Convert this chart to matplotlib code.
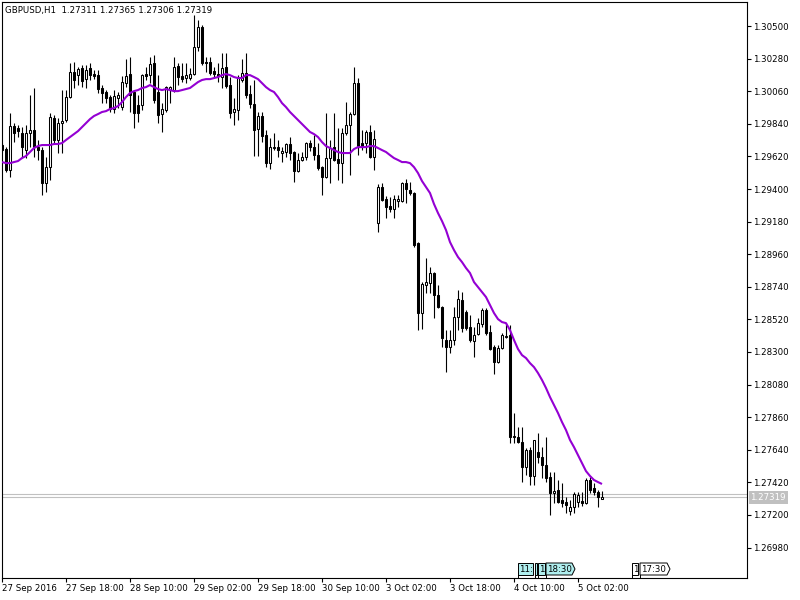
import numpy as np
import pandas as pd
import matplotlib
matplotlib.use('Agg')
import matplotlib.pyplot as plt
from matplotlib.patches import Polygon

# GBPUSD H1, 27 Sep 2016 02:00 .. 5 Oct 2016 08:00 (weekend gap)
symbol = 'GBPUSD,H1'
times = list(pd.date_range('2016-09-27 02:00', '2016-09-30 23:00', freq='h')) + \
        list(pd.date_range('2016-10-03 00:00', '2016-10-05 08:00', freq='h'))

opens = [1.29697, 1.29670, 1.29528, 1.29825, 1.29812, 1.29778, 1.29663, 1.29778, 1.29798, 1.29683,
         1.29663, 1.29440, 1.29548, 1.29879, 1.29731, 1.29845, 1.29866, 1.30021, 1.30190, 1.30169,
         1.30217, 1.30142, 1.30217, 1.30176, 1.30169, 1.30082, 1.30055, 1.30021, 1.29940, 1.30014,
         1.29953, 1.30115, 1.30176, 1.30055, 1.29967, 1.29967, 1.30176, 1.30169, 1.30250, 1.30055,
         1.29906, 1.29933, 1.30068, 1.30068, 1.30230, 1.30163, 1.30149, 1.30149, 1.30176, 1.30358,
         1.30493, 1.30257, 1.30257, 1.30196, 1.30176, 1.30156, 1.30223, 1.30102, 1.29920, 1.29933,
         1.30136, 1.30183, 1.30041, 1.29974, 1.29805, 1.29893, 1.29764, 1.29575, 1.29677, 1.29683,
         1.29643, 1.29650, 1.29704, 1.29650, 1.29521, 1.29596, 1.29616, 1.29710, 1.29683, 1.29629,
         1.29548, 1.29481, 1.29609, 1.29683, 1.29602, 1.29575, 1.29778, 1.29832, 1.29906, 1.30115,
         1.29710, 1.29710, 1.29785, 1.29616, 1.29170, 1.29413, 1.29332, 1.29285, 1.29265, 1.29319,
         1.29319, 1.29440, 1.29393, 1.29373, 1.29035, 1.28563, 1.28752, 1.28765, 1.28833, 1.28684,
         1.28603, 1.28381, 1.28333, 1.28381, 1.28536, 1.28651, 1.28570, 1.28468, 1.28374, 1.28421,
         1.28489, 1.28583, 1.28435, 1.28333, 1.28232, 1.28327, 1.28401, 1.28414, 1.27733, 1.27726,
         1.27692, 1.27523, 1.27638, 1.27463, 1.27625, 1.27591, 1.27537, 1.27456, 1.27348, 1.27368,
         1.27301, 1.27287, 1.27226, 1.27253, 1.27287, 1.27294, 1.27280, 1.27436, 1.27382, 1.27355,
         1.27311]
highs = [1.29710, 1.29683, 1.29913, 1.29845, 1.29832, 1.29818, 1.29832, 1.30034, 1.30082, 1.29731,
         1.29683, 1.29616, 1.29913, 1.29899, 1.29879, 1.30068, 1.30068, 1.30250, 1.30257, 1.30223,
         1.30237, 1.30237, 1.30250, 1.30203, 1.30203, 1.30102, 1.30068, 1.30034, 1.30068, 1.30055,
         1.30163, 1.30277, 1.30291, 1.30068, 1.30034, 1.30176, 1.30223, 1.30291, 1.30304, 1.30169,
         1.29980, 1.30095, 1.30095, 1.30291, 1.30250, 1.30250, 1.30250, 1.30217, 1.30574, 1.30541,
         1.30507, 1.30291, 1.30291, 1.30223, 1.30250, 1.30318, 1.30318, 1.30156, 1.30014, 1.30169,
         1.30277, 1.30318, 1.30102, 1.30136, 1.29920, 1.29920, 1.29798, 1.29744, 1.29778, 1.29731,
         1.29683, 1.29710, 1.29751, 1.29656, 1.29643, 1.29650, 1.29717, 1.29731, 1.29764, 1.29710,
         1.29555, 1.29913, 1.29731, 1.29913, 1.29812, 1.29812, 1.29987, 1.29920, 1.30223, 1.30149,
         1.29798, 1.29798, 1.29832, 1.29798, 1.29434, 1.29440, 1.29353, 1.29346, 1.29359, 1.29359,
         1.29447, 1.29467, 1.29447, 1.29380, 1.29042, 1.28772, 1.28934, 1.28873, 1.28840, 1.28752,
         1.28610, 1.28448, 1.28448, 1.28603, 1.28718, 1.28705, 1.28583, 1.28549, 1.28468, 1.28529,
         1.28597, 1.28597, 1.28482, 1.28347, 1.28347, 1.28428, 1.28495, 1.28482, 1.27888, 1.27793,
         1.27793, 1.27652, 1.27658, 1.27706, 1.27753, 1.27658, 1.27726, 1.27490, 1.27490, 1.27436,
         1.27415, 1.27321, 1.27301, 1.27355, 1.27355, 1.27355, 1.27449, 1.27456, 1.27415, 1.27368,
         1.27365]
lows = [1.29650, 1.29515, 1.29481, 1.29717, 1.29751, 1.29616, 1.29609, 1.29683, 1.29616, 1.29596,
        1.29359, 1.29380, 1.29461, 1.29710, 1.29643, 1.29643, 1.29852, 1.30014, 1.30082, 1.30102,
        1.30088, 1.30082, 1.30136, 1.30142, 1.30048, 1.29980, 1.29980, 1.29920, 1.29913, 1.29947,
        1.29933, 1.30088, 1.29920, 1.29812, 1.29852, 1.29933, 1.30136, 1.30115, 1.29980, 1.29845,
        1.29785, 1.29920, 1.29980, 1.30055, 1.30102, 1.30122, 1.30115, 1.30136, 1.30169, 1.30331,
        1.30237, 1.30190, 1.30169, 1.30156, 1.30122, 1.30082, 1.30082, 1.29879, 1.29832, 1.29866,
        1.30122, 1.30014, 1.29947, 1.29623, 1.29623, 1.29717, 1.29548, 1.29535, 1.29663, 1.29616,
        1.29582, 1.29616, 1.29596, 1.29447, 1.29515, 1.29589, 1.29596, 1.29656, 1.29596, 1.29528,
        1.29359, 1.29474, 1.29440, 1.29589, 1.29461, 1.29440, 1.29764, 1.29494, 1.29899, 1.29629,
        1.29663, 1.29643, 1.29609, 1.29528, 1.29110, 1.29319, 1.29204, 1.29245, 1.29204, 1.29278,
        1.29312, 1.29305, 1.29359, 1.29008, 1.28448, 1.28455, 1.28698, 1.28698, 1.28529, 1.28597,
        1.28333, 1.28165, 1.28293, 1.28347, 1.28448, 1.28435, 1.28448, 1.28367, 1.28266, 1.28414,
        1.28468, 1.28414, 1.28313, 1.28151, 1.28225, 1.28320, 1.28394, 1.27685, 1.27685, 1.27685,
        1.27422, 1.27469, 1.27402, 1.27402, 1.27550, 1.27449, 1.27422, 1.27199, 1.27280, 1.27280,
        1.27253, 1.27213, 1.27199, 1.27213, 1.27253, 1.27260, 1.27274, 1.27348, 1.27334, 1.27253,
        1.27306]
closes = [1.29663, 1.29528, 1.29825, 1.29778, 1.29791, 1.29683, 1.29778, 1.29798, 1.29683, 1.29663,
          1.29440, 1.29548, 1.29886, 1.29731, 1.29845, 1.29859, 1.30021, 1.30190, 1.30136, 1.30210,
          1.30129, 1.30203, 1.30169, 1.30163, 1.30075, 1.30048, 1.30014, 1.29940, 1.30028, 1.30034,
          1.30122, 1.30163, 1.30034, 1.29913, 1.29913, 1.30169, 1.30163, 1.30244, 1.30001, 1.29899,
          1.29940, 1.30088, 1.30088, 1.30223, 1.30156, 1.30142, 1.30169, 1.30176, 1.30358, 1.30493,
          1.30250, 1.30250, 1.30183, 1.30176, 1.30163, 1.30217, 1.30095, 1.29913, 1.29940, 1.30149,
          1.30183, 1.30034, 1.29974, 1.29798, 1.29893, 1.29758, 1.29575, 1.29683, 1.29683, 1.29663,
          1.29656, 1.29704, 1.29643, 1.29521, 1.29596, 1.29616, 1.29710, 1.29683, 1.29629, 1.29542,
          1.29481, 1.29609, 1.29677, 1.29596, 1.29575, 1.29778, 1.29832, 1.29906, 1.30115, 1.29690,
          1.29690, 1.29785, 1.29616, 1.29737, 1.29413, 1.29326, 1.29278, 1.29265, 1.29332, 1.29332,
          1.29440, 1.29400, 1.29373, 1.29022, 1.28563, 1.28759, 1.28772, 1.28833, 1.28684, 1.28603,
          1.28394, 1.28333, 1.28381, 1.28536, 1.28657, 1.28462, 1.28462, 1.28381, 1.28414, 1.28495,
          1.28583, 1.28428, 1.28320, 1.28232, 1.28327, 1.28414, 1.28408, 1.27726, 1.27726, 1.27692,
          1.27523, 1.27638, 1.27463, 1.27706, 1.27591, 1.27537, 1.27449, 1.27348, 1.27361, 1.27287,
          1.27280, 1.27267, 1.27253, 1.27341, 1.27334, 1.27280, 1.27436, 1.27368, 1.27355, 1.27321,
          1.27319]
ma_values = [1.29582, 1.29575, 1.29575, 1.29582, 1.29589, 1.29609, 1.29623, 1.29650, 1.29677, 1.29690,
             1.29697, 1.29697, 1.29697, 1.29704, 1.29704, 1.29710, 1.29731, 1.29751, 1.29771, 1.29791,
             1.29818, 1.29845, 1.29872, 1.29893, 1.29906, 1.29920, 1.29926, 1.29940, 1.29947, 1.29960,
             1.29987, 1.30021, 1.30048, 1.30061, 1.30068, 1.30082, 1.30088, 1.30102, 1.30088, 1.30075,
             1.30068, 1.30075, 1.30068, 1.30061, 1.30061, 1.30068, 1.30075, 1.30082, 1.30102, 1.30122,
             1.30136, 1.30142, 1.30142, 1.30149, 1.30156, 1.30169, 1.30176, 1.30169, 1.30156, 1.30149,
             1.30149, 1.30169, 1.30169, 1.30156, 1.30142, 1.30115, 1.30088, 1.30068, 1.30055, 1.30021,
             1.29980, 1.29953, 1.29920, 1.29893, 1.29866, 1.29839, 1.29812, 1.29785, 1.29771, 1.29751,
             1.29717, 1.29690, 1.29677, 1.29663, 1.29650, 1.29643, 1.29643, 1.29643, 1.29670, 1.29683,
             1.29683, 1.29683, 1.29690, 1.29690, 1.29677, 1.29663, 1.29650, 1.29629, 1.29609, 1.29596,
             1.29582, 1.29582, 1.29575, 1.29548, 1.29508, 1.29454, 1.29413, 1.29373, 1.29299, 1.29238,
             1.29184, 1.29123, 1.29042, 1.28988, 1.28941, 1.28907, 1.28867, 1.28833, 1.28772, 1.28738,
             1.28705, 1.28671, 1.28617, 1.28563, 1.28522, 1.28502, 1.28495, 1.28448, 1.28381, 1.28320,
             1.28279, 1.28259, 1.28225, 1.28198, 1.28158, 1.28111, 1.28057, 1.27996, 1.27942, 1.27888,
             1.27827, 1.27773, 1.27706, 1.27658, 1.27604, 1.27550, 1.27496, 1.27463, 1.27436, 1.27422,
             1.27409]

bid = 1.27319
ask = 1.27341
price_ticks = [1.30500, 1.30280, 1.30060, 1.29840, 1.29620, 1.29400, 1.29180, 1.28960, 1.28740,
               1.28520, 1.28300, 1.28080, 1.27860, 1.27640, 1.27420, 1.27200, 1.26980]
time_step = 16

plt.rcParams['font.family'] = ['DejaVu Sans']
plt.rcParams['font.size'] = 6.2

fig = plt.figure(figsize=(8, 6), dpi=100)
fig.patch.set_facecolor('white')
ax = fig.add_axes([2 / 800, 22 / 600, 745 / 800, 576 / 600])

n = len(closes)
x = np.arange(n)
o = np.array(opens); h = np.array(highs); l = np.array(lows); c = np.array(closes)

ax.axhline(ask, color='#c0c0c0', lw=0.8, zorder=1)
ax.axhline(bid, color='#c0c0c0', lw=0.8, zorder=1)

# свечи: тени + тела
ax.vlines(x, l, h, color='black', lw=0.8, zorder=2)
up = c >= o
ax.bar(x, np.abs(c - o), bottom=np.minimum(o, c), width=0.55,
       color=np.where(up, 'white', 'black'), edgecolor='black', linewidth=0.75, zorder=3)

ax.plot(x, ma_values, color='#9400d3', lw=1.5, zorder=4, solid_capstyle='butt')

ax.set_xlim(0, 745 / 4)
ax.set_ylim(1.267745, 1.306625)

for sp in ax.spines.values():
    sp.set_color('black')
    sp.set_linewidth(0.8)

ax.yaxis.tick_right()
ax.set_yticks(price_ticks, labels=[f'{v:.5f}' for v in price_ticks])
ax.tick_params(axis='y', direction='out', length=3, width=0.8, pad=1.5, labelsize=6.2)

tick_idx = list(range(0, n, time_step))
tick_lbl = []
for i in tick_idx:
    t = times[i]
    if i == 0:
        tick_lbl.append(f'{t.day} {t:%b %Y}')
    else:
        tick_lbl.append(f'{t.day} {t:%b %H:%M}')
ax.set_xticks(tick_idx, labels=tick_lbl)
for lab in ax.get_xticklabels():
    lab.set_horizontalalignment('left')
ax.tick_params(axis='x', direction='out', length=3, width=0.8, pad=1.5, labelsize=6.2)

# текущая цена на шкале
ax.annotate(f'{bid:.5f}', xy=(1, bid), xycoords=ax.get_yaxis_transform(),
            xytext=(2.5, 0), textcoords='offset points', ha='left', va='center',
            color='white', fontsize=6.2, annotation_clip=False,
            bbox=dict(boxstyle='square,pad=0.2', fc='#c0c0c0', ec='none'))

# слой в пикселях для заголовка и меток событий
ov = fig.add_axes([0, 0, 1, 1])
ov.set_xlim(0, 800)
ov.set_ylim(600, 0)
ov.axis('off')
ov.patch.set_alpha(0)

ov.text(5, 10, f'{symbol}  {opens[-1]:.5f} {highs[-1]:.5f} {lows[-1]:.5f} {closes[-1]:.5f}',
        ha='left', va='center', fontsize=6.2)


def event_box(x0, x1, label, fc, arrow=False):
    pts = [(x0, 563), (x1, 563), (x1, 575), (x0, 575)]
    if arrow:
        pts = [(x0, 563), (x1, 563), (x1 + 3, 569), (x1, 575), (x0, 575)]
    ov.add_patch(Polygon(pts, closed=True, fc=fc, ec='black', lw=0.7))
    ov.plot([x0, x0], [575, 578], color='black', lw=0.7)
    if label:
        ov.text(x0 + 1.5, 569.5, label, ha='left', va='center', fontsize=6.2, clip_on=True)


cyan = '#afeeee'
event_box(518, 533, '11:', cyan)
event_box(535, 537, '', cyan)
event_box(538, 545, '1', cyan)
event_box(546, 572, '18:30', cyan, arrow=True)
event_box(632, 638, '1', 'white')
event_box(640, 667, '17:30', 'white', arrow=True)

fig.savefig('out.png', dpi=100, facecolor='white')
plt.close(fig)
